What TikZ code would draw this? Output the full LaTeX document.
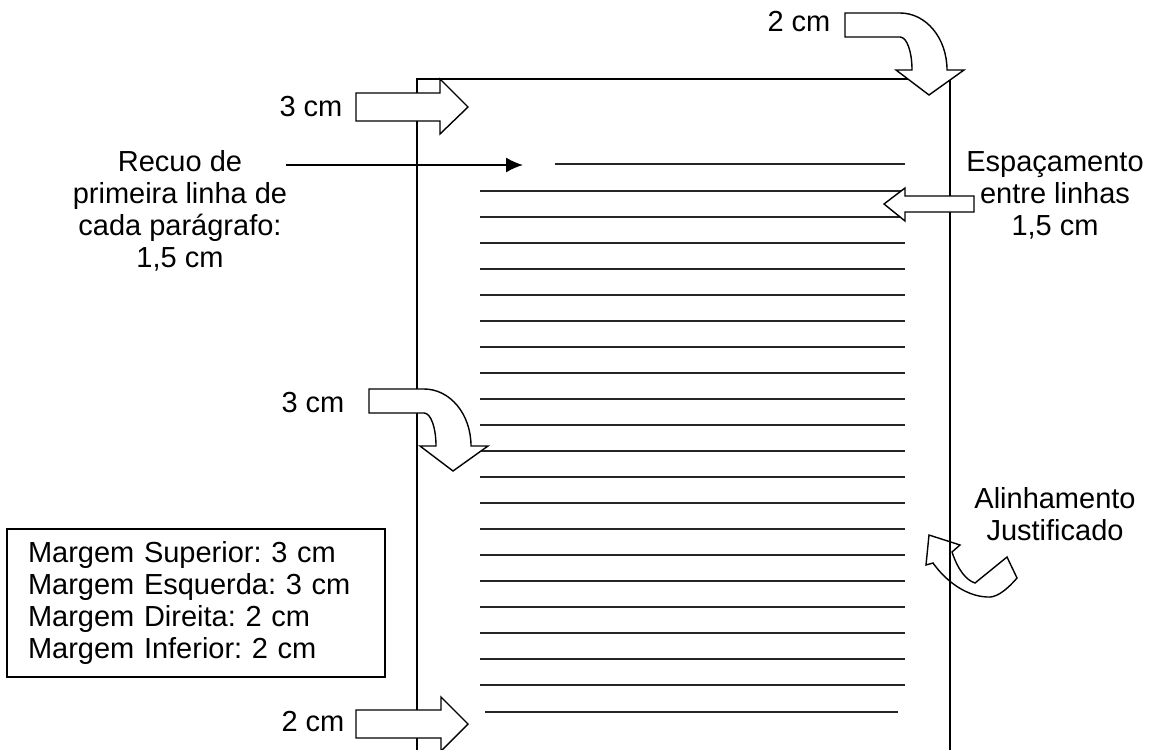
\documentclass[tikz,border=0pt]{standalone}
\usepackage{fontspec}
\setmainfont{Liberation Sans}
\usetikzlibrary{arrows.meta}
\frenchspacing
\begin{document}
\begin{tikzpicture}[x=1pt,y=-1pt,
  lbl/.style={font=\fontsize{29}{32}\selectfont, inner sep=0pt, align=center},
  pageframe/.style={line width=1.6pt},
  tline/.style={line width=1.1pt, black!85},
  blockarrow/.style={draw, line width=1.4pt, fill=white, line join=miter},
  openarrow/.style={draw, line width=1.4pt, line join=miter}]
\useasboundingbox (0,0) rectangle (1158,749);
% page frame
\coordinate (ptl) at (417,79);
\coordinate (ptr) at (950,79);
\coordinate (pbl) at (417,752);
\coordinate (pbr) at (950,752);
\draw[pageframe] (pbl) -- (ptl) -- (ptr) -- (pbr);
% text lines
\draw[tline] (555,164) -- (905,164);
\foreach \k in {0,...,19} \draw[tline] (480,{191+26*\k}) -- (905,{191+26*\k});
\draw[tline] (485,712) -- (898,712);
% straight block arrows
\draw[blockarrow] (356,93) -- (440,93) -- (440,79) -- (468,107) -- (440,134) -- (440,121) -- (356,121) -- cycle;
\draw[blockarrow] (356,710) -- (441,710) -- (441,697) -- (468,724) -- (441,751) -- (441,738) -- (356,738) -- cycle;
\draw[blockarrow] (974,196) -- (905,196) -- (905,188) -- (884,204) -- (905,221) -- (905,212) -- (974,212) -- cycle;
% curved arrows
\def\bentdown{(845,13) -- (900,13) .. controls (926,13) and (947,38) .. (947,70) -- (964,70) -- (929,95) -- (896,70) -- (912,70) .. controls (912,52) and (907,37) .. (900,37) -- (845,37) -- cycle}
\draw[blockarrow] \bentdown;
\draw[blockarrow, shift={(-476,376)}] \bentdown;
\draw[openarrow] (929,535) -- (960,545) -- (952,552) .. controls (958,570) and (966,580) .. (975,583) -- (1007,557) -- (1017,578) .. controls (1005,592) and (995,598) .. (987,597) .. controls (965,596) and (945,580) .. (933,563) -- (926,565) -- cycle;
% recuo arrow
\coordinate (rs) at (286,165);
\coordinate (re) at (523,165);
\draw[line width=1.6pt, -{Latex[length=17pt,width=15pt]}] (rs) -- (re);
% labels
\node[lbl] (cm2top) at (799,22) {2 cm};
\node[lbl] (cm3top) at (311,107) {3 cm};
\node[lbl] (cm3mid) at (313,403) {3 cm};
\node[lbl] (cm2bot) at (313,722) {2 cm};
\node[lbl] (recuo) at (180,211) {Recuo de\\primeira linha de\\cada parágrafo:\\1,5 cm};
\node[lbl] (esp) at (1055,195) {Espaçamento\\entre linhas\\1,5 cm};
\node[lbl] (alin) at (1055,514) {Alinhamento\\Justificado};
\node[draw, line width=1.4pt, minimum width=378pt, minimum height=148pt, inner xsep=21pt, text width=336pt, align=left, font=\fontsize{29}{32}\selectfont] (box) at (196,603) {Margem Superior: 3 cm\\Margem Esquerda: 3 cm\\Margem Direita: 2 cm\\Margem Inferior: 2 cm};
\end{tikzpicture}
\end{document}
